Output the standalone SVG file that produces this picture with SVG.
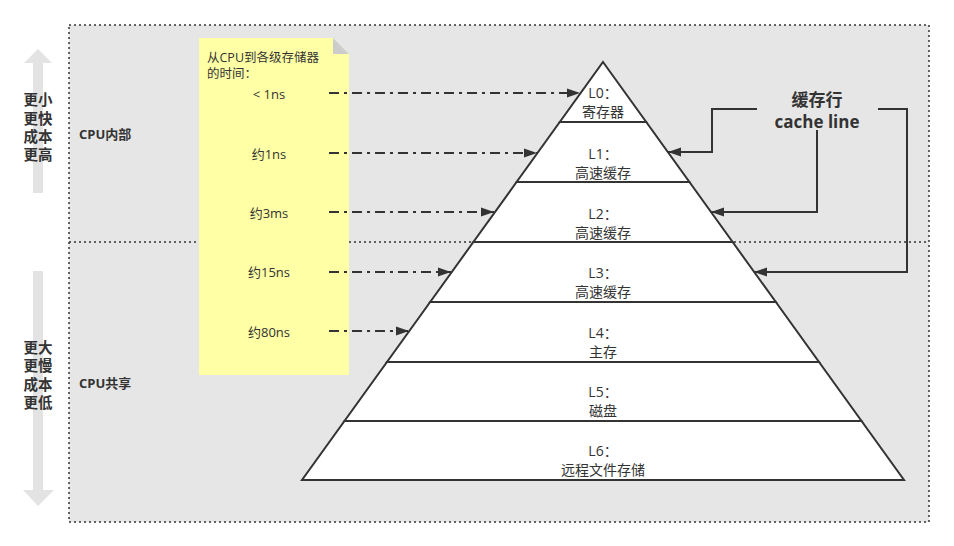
<svg xmlns="http://www.w3.org/2000/svg" width="954" height="546" viewBox="0 0 954 546">
<defs>
<style>
text{font-family:"Open Sans","Noto Sans CJK SC",sans-serif;fill:#333;}
.lvl polygon{fill:#fff;stroke:#333;stroke-width:2;stroke-linejoin:miter;}
.lvl text{font-size:14px;text-anchor:middle;}
.t{font-size:13px;text-anchor:middle;}
.side{font-size:14.5px;font-weight:bold;text-anchor:middle;}
.cpu{font-size:13px;font-weight:bold;}
.dd{fill:none;stroke:#333;stroke-width:2;stroke-dasharray:10 5 3 5;marker-end:url(#ah);}
.cl{fill:none;stroke:#333;stroke-width:2;marker-end:url(#ah);}
</style>
<marker id="ah" markerUnits="userSpaceOnUse" markerWidth="14" markerHeight="10" refX="13" refY="5" orient="auto">
<path d="M0,0.5 L13,5 L0,9.5 z" fill="#333"/>
</marker>
</defs>
<rect width="954" height="546" fill="#fff"/>
<g id="bounds">
<rect x="69" y="25" width="860" height="497" fill="#e6e6e6" stroke="#333" stroke-width="1.5" stroke-dasharray="2 3"/>
<line x1="69" y1="242" x2="929" y2="242" stroke="#333" stroke-width="1.5" stroke-dasharray="2 3"/>
<text class="cpu" x="79" y="139">CPU内部</text>
<text class="cpu" x="79" y="388">CPU共享</text>
</g>
<g id="arrow-up">
<polygon points="38,49 52,63 43,63 43,193 33,193 33,63 24,63" fill="#e3e3e3"/>
<text class="side"><tspan x="38" y="105">更小</tspan><tspan x="38" y="124">更快</tspan><tspan x="38" y="142">成本</tspan><tspan x="38" y="160">更高</tspan></text>
</g>
<g id="arrow-down">
<polygon points="33,271 43,271 43,490 54,490 38,506 23,490 33,490" fill="#e3e3e3"/>
<text class="side"><tspan x="38" y="353">更大</tspan><tspan x="38" y="371">更慢</tspan><tspan x="38" y="390">成本</tspan><tspan x="38" y="408">更低</tspan></text>
</g>
<g id="note">
<polygon points="199,38 333,38 349,54 349,375 199,375" fill="#ffffa6"/>
<polygon points="333,38 333,54 349,54" fill="#cccccc"/>
<text style="font-size:12.5px"><tspan x="207" y="62">从CPU到各级存储器</tspan><tspan x="207" y="78">的时间：</tspan></text>
<text class="t" x="269" y="99">&lt; 1ns</text>
<text class="t" x="269" y="159">约1ns</text>
<text class="t" x="269" y="218">约3ms</text>
<text class="t" x="269" y="277">约15ns</text>
<text class="t" x="269" y="337">约80ns</text>
</g>
<g id="L0" class="lvl">
<polygon points="603,62 646.2,122 559.8,122"/>
<text x="603" y="98">L0：</text>
<text x="603" y="117">寄存器</text>
</g>
<g id="L1" class="lvl">
<polygon points="559.8,122 646.2,122 689.4,182 516.6,182"/>
<text x="603" y="159">L1：</text>
<text x="603" y="178">高速缓存</text>
</g>
<g id="L2" class="lvl">
<polygon points="516.6,182 689.4,182 732.6,242 473.4,242"/>
<text x="603" y="219">L2：</text>
<text x="603" y="238">高速缓存</text>
</g>
<g id="L3" class="lvl">
<polygon points="473.4,242 732.6,242 775.8,302 430.2,302"/>
<text x="603" y="278">L3：</text>
<text x="603" y="297">高速缓存</text>
</g>
<g id="L4" class="lvl">
<polygon points="430.2,302 775.8,302 819,362 387,362"/>
<text x="603" y="338">L4：</text>
<text x="603" y="357">主存</text>
</g>
<g id="L5" class="lvl">
<polygon points="387,362 819,362 861.5,421 344.5,421"/>
<text x="603" y="397">L5：</text>
<text x="603" y="416">磁盘</text>
</g>
<g id="L6" class="lvl">
<polygon points="344.5,421 861.5,421 904,480 302,480"/>
<text x="603" y="456">L6：</text>
<text x="603" y="475">远程文件存储</text>
</g>
<g id="cacheline">
<text x="817" y="106" style="font-size:17px;font-weight:bold;text-anchor:middle">缓存行</text>
<text x="817" y="128" style="font-size:17px;font-weight:bold;text-anchor:middle">cache line</text>
</g>
<g id="connectors">
<line class="dd" x1="329" y1="93" x2="580" y2="93"/>
<line class="dd" x1="329" y1="153" x2="537" y2="153"/>
<line class="dd" x1="329" y1="212" x2="494" y2="212"/>
<line class="dd" x1="329" y1="272" x2="451" y2="272"/>
<line class="dd" x1="329" y1="331" x2="409" y2="331"/>
<polyline class="cl" points="757,109 712,109 712,152 668,152"/>
<polyline class="cl" points="817,130 817,212 711,212"/>
<polyline class="cl" points="878,109 907,109 907,272 754,272"/>
</g>
</svg>
